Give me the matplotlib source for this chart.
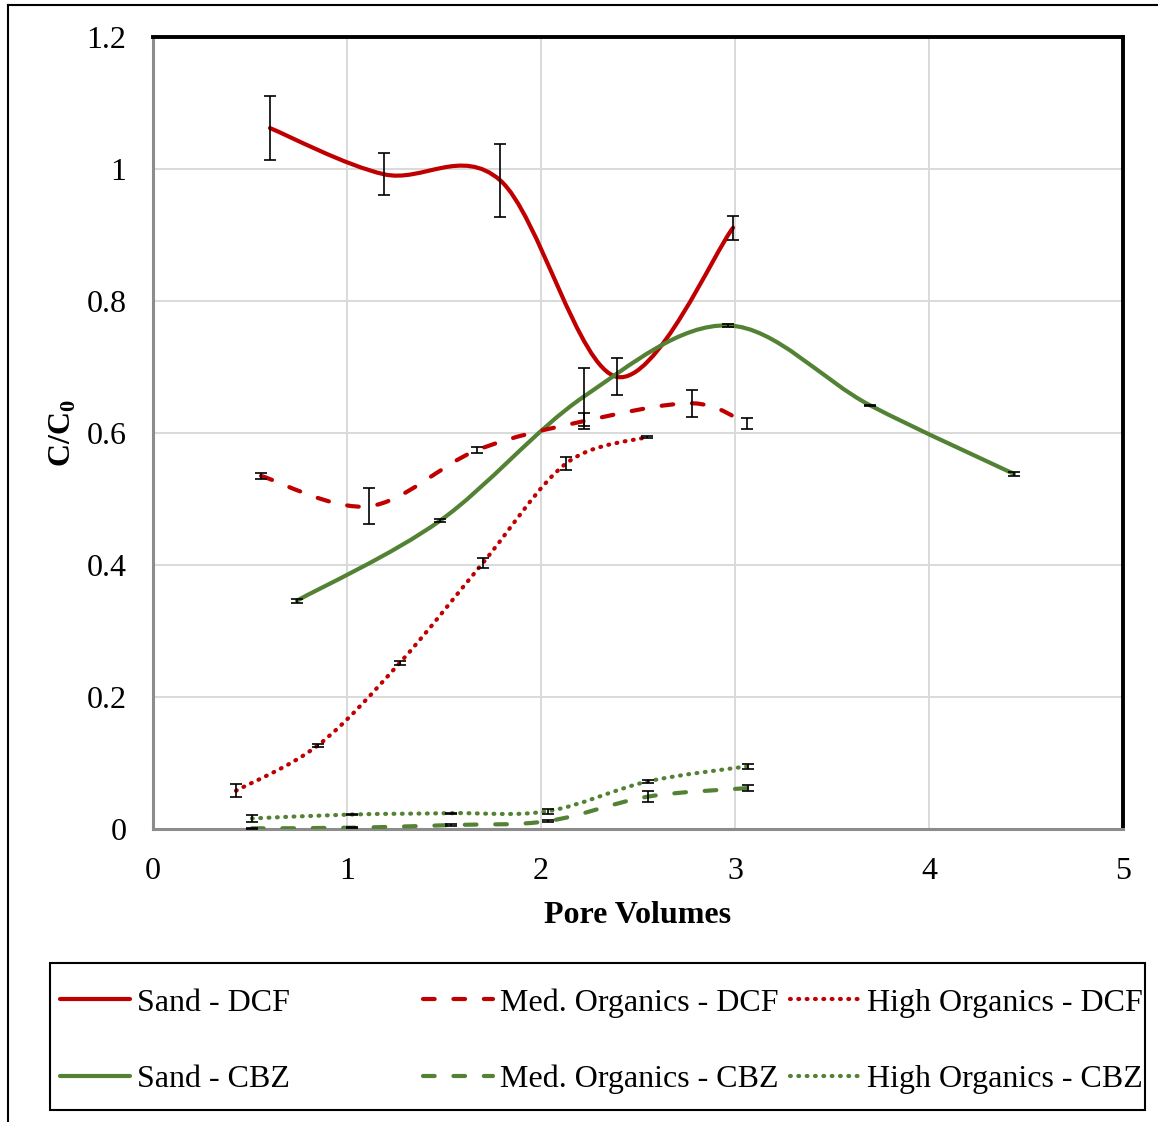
import numpy as np
import matplotlib
matplotlib.use("Agg")
import matplotlib.pyplot as plt
from matplotlib.path import Path
from matplotlib.patches import PathPatch, Rectangle
from matplotlib.lines import Line2D

plt.rcParams['font.family'] = ['Liberation Serif', 'DejaVu Serif']
plt.rcParams['mathtext.fontset'] = 'custom'
plt.rcParams['mathtext.rm'] = 'Liberation Serif'
plt.rcParams['mathtext.bf'] = 'Liberation Serif:bold'

# data (pore volumes, C/C0, error)
sand_dcf_x = [0.603, 1.191, 1.789, 2.392, 2.990]
sand_dcf_y = [1.062, 0.992, 0.983, 0.685, 0.911]
sand_dcf_err = [0.049, 0.032, 0.055, 0.028, 0.018]

med_dcf_x = [0.557, 1.113, 1.670, 2.222, 2.780, 3.060]
med_dcf_y = [0.535, 0.489, 0.574, 0.618, 0.645, 0.614]
med_dcf_err = [0.004, 0.027, 0.005, 0.012, 0.020, 0.008]

high_dcf_x = [0.428, 0.851, 1.273, 1.700, 2.130, 2.546]
high_dcf_y = [0.058, 0.127, 0.252, 0.403, 0.554, 0.594]
high_dcf_err = [0.010, 0.002, 0.003, 0.008, 0.010, 0.002]

sand_cbz_x = [0.742, 1.479, 2.220, 2.964, 3.696, 4.438]
sand_cbz_y = [0.346, 0.467, 0.655, 0.763, 0.642, 0.538]
sand_cbz_err = [0.003, 0.002, 0.044, 0.002, 0.001, 0.003]

med_cbz_x = [0.510, 1.026, 1.536, 2.036, 2.550, 3.065]
med_cbz_y = [0.001, 0.002, 0.006, 0.012, 0.049, 0.062]
med_cbz_err = [0.001, 0.001, 0.001, 0.001, 0.008, 0.004]

high_cbz_x = [0.510, 1.026, 1.536, 2.036, 2.550, 3.065]
high_cbz_y = [0.016, 0.022, 0.024, 0.027, 0.072, 0.095]
high_cbz_err = [0.005, 0.001, 0.001, 0.004, 0.002, 0.004]

x_ticks = [0, 1, 2, 3, 4, 5]
y_ticks = [0, 0.2, 0.4, 0.6, 0.8, 1.0, 1.2]
y_tick_labels = ['0', '0.2', '0.4', '0.6', '0.8', '1', '1.2']

RED = '#C00000'
GREEN = '#548235'
LW = 3.0
FS = 23
STYLES = {
    'solid': dict(linestyle='-', linewidth=LW),
    'dash': dict(linestyle=(0, (2.8, 4.5)), linewidth=LW),
    'dot': dict(linestyle=(0, (0.2, 1.8)), linewidth=3.0),
}


def smooth_path(xs, ys):
    """Excel-style smoothed line as cubic bezier segments."""
    p = np.column_stack([xs, ys])
    n = len(p)
    verts = [p[0]]
    codes = [Path.MOVETO]
    for i in range(n - 1):
        p_prev = p[i - 1] if i > 0 else p[i]
        p_next2 = p[i + 2] if i + 2 < n else p[i + 1]
        c1 = p[i] + (p[i + 1] - p_prev) / 6.0
        c2 = p[i + 1] - (p_next2 - p[i]) / 6.0
        verts += [c1, c2, p[i + 1]]
        codes += [Path.CURVE4] * 3
    return Path(verts, codes)


fig = plt.figure(figsize=(11.58, 11.22), dpi=100)
ax = fig.add_axes([153 / 1158, 1 - 829 / 1122, 970 / 1158, 792 / 1122])

series = [
    (sand_dcf_x, sand_dcf_y, sand_dcf_err, RED, 'solid', 'Sand - DCF'),
    (sand_cbz_x, sand_cbz_y, sand_cbz_err, GREEN, 'solid', 'Sand - CBZ'),
    (med_dcf_x, med_dcf_y, med_dcf_err, RED, 'dash', 'Med. Organics - DCF'),
    (med_cbz_x, med_cbz_y, med_cbz_err, GREEN, 'dash', 'Med. Organics - CBZ'),
    (high_dcf_x, high_dcf_y, high_dcf_err, RED, 'dot', 'High Organics - DCF'),
    (high_cbz_x, high_cbz_y, high_cbz_err, GREEN, 'dot', 'High Organics - CBZ'),
]

handles = []
for xs, ys, err, col, sty, name in series:
    st = STYLES[sty]
    patch = PathPatch(smooth_path(xs, ys), fill=False, edgecolor=col,
                      linewidth=st['linewidth'], linestyle=st['linestyle'],
                      capstyle='round', zorder=3)
    ax.add_patch(patch)
    ax.errorbar(xs, ys, yerr=err, fmt='none', ecolor='black', elinewidth=1.2,
                capsize=4.3, capthick=1.2, zorder=4)
    handles.append(Line2D([], [], color=col, linewidth=st['linewidth'],
                          linestyle=st['linestyle'],
                          dash_capstyle='round', solid_capstyle='round'))

ax.set_xlim(0, 5)
ax.set_ylim(0, 1.2)
ax.set_xticks(x_ticks)
ax.set_yticks(y_ticks)
ax.set_yticklabels(y_tick_labels)
ax.tick_params(length=0, labelsize=FS)
ax.tick_params(axis='x', pad=20)
ax.tick_params(axis='y', pad=19)
ax.grid(True, color='#d9d9d9', linewidth=1.4)
ax.set_axisbelow(True)
for side in ['top', 'right']:
    ax.spines[side].set_color('black')
    ax.spines[side].set_linewidth(2.8)
for side in ['left', 'bottom']:
    ax.spines[side].set_color('#8c8c8c')
    ax.spines[side].set_linewidth(2.2)

ax.set_xlabel('Pore Volumes', fontsize=FS, fontweight='bold', labelpad=11)
ax.set_ylabel('C/C$_\\mathbf{0}$', fontsize=FS, fontweight='bold', labelpad=6)

# legend: three columns, each its own legend, inside one framed box
labels = [s[5] for s in series]
col_x = [60 / 1158, 423 / 1158, 790 / 1158]
for k in range(3):
    fig.legend(handles[2 * k:2 * k + 2], labels[2 * k:2 * k + 2],
               loc='center left', bbox_to_anchor=(col_x[k], 1 - 1041 / 1122),
               frameon=False, fontsize=FS, handlelength=2.2, handletextpad=0.2,
               labelspacing=1.47, borderpad=0, borderaxespad=0)
fig.add_artist(Rectangle((50 / 1158, 1 - 1110 / 1122), 1095 / 1158, 147 / 1122,
                         transform=fig.transFigure, fill=False,
                         edgecolor='black', linewidth=1.5))

# outer chart border (left and top edges visible)
fig.add_artist(Line2D([8 / 1158, 8 / 1158], [0, 1 - 5 / 1122],
                      transform=fig.transFigure, color='black', linewidth=1.5))
fig.add_artist(Line2D([8 / 1158, 1], [1 - 5 / 1122, 1 - 5 / 1122],
                      transform=fig.transFigure, color='black', linewidth=1.5))

fig.savefig('out.png', dpi=100)
